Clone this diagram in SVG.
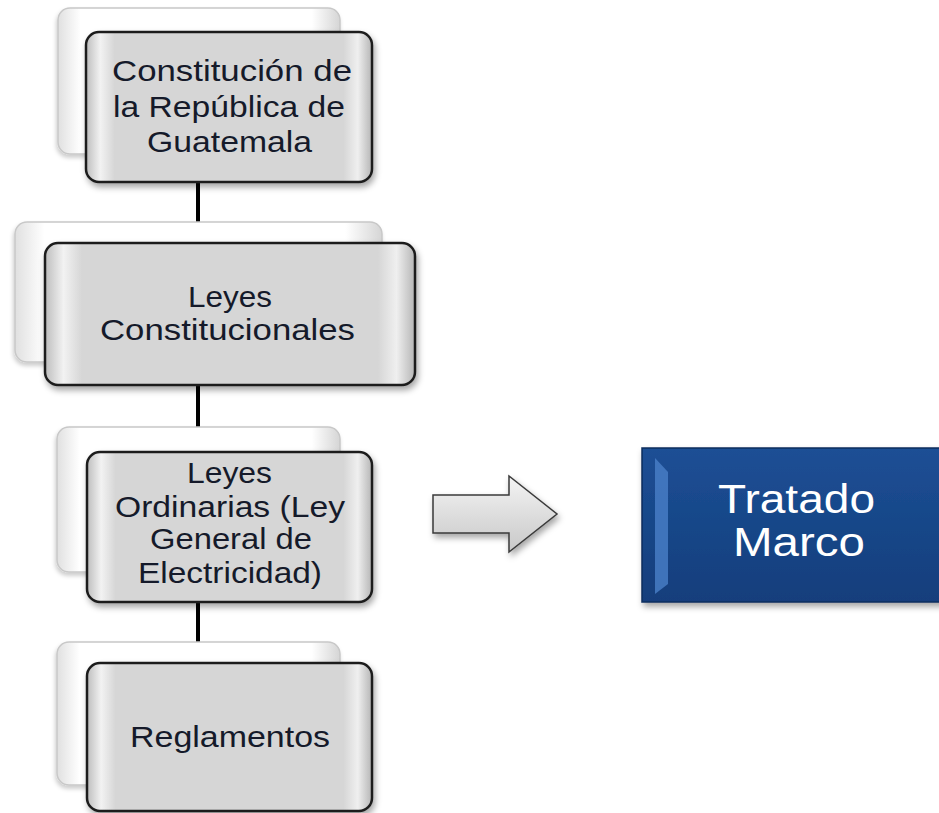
<svg xmlns="http://www.w3.org/2000/svg" width="939" height="813" viewBox="0 0 939 813">
<defs>
<linearGradient id="gBack" x1="0" y1="0" x2="1" y2="0">
<stop offset="0" stop-color="#e0e0e0"/><stop offset="0.08" stop-color="#ffffff"/><stop offset="0.9" stop-color="#ffffff"/><stop offset="1" stop-color="#d5d5d5"/>
</linearGradient>
<linearGradient id="gFront" x1="0" y1="0" x2="1" y2="0">
<stop offset="0" stop-color="#bdbdbd"/><stop offset="0.05" stop-color="#f2f2f2"/><stop offset="0.1" stop-color="#d6d6d6"/><stop offset="0.9" stop-color="#d6d6d6"/><stop offset="0.95" stop-color="#efefef"/><stop offset="1" stop-color="#b5b5b5"/>
</linearGradient>
<linearGradient id="gArrow" x1="0" y1="0" x2="0" y2="1">
<stop offset="0" stop-color="#f4f4f4"/><stop offset="1" stop-color="#c8c8c8"/>
</linearGradient>
<linearGradient id="gBlue" x1="0" y1="0" x2="0" y2="1">
<stop offset="0" stop-color="#1d4f95"/><stop offset="1" stop-color="#123e7c"/>
</linearGradient>
<filter id="sh" x="-10%" y="-10%" width="125%" height="130%">
<feDropShadow dx="2" dy="4" stdDeviation="3" flood-color="#000" flood-opacity="0.35"/>
</filter>
<filter id="shb" x="-10%" y="-10%" width="125%" height="130%">
<feDropShadow dx="-1" dy="3" stdDeviation="2" flood-color="#000" flood-opacity="0.2"/>
</filter>
</defs>
<style>
.back{fill:url(#gBack);stroke:#c8c8c8;stroke-width:1.5;filter:url(#shb)}
.front{fill:url(#gFront);stroke:#1e1e1e;stroke-width:2.5;filter:url(#sh)}
.t{font-family:"Liberation Sans",Arial,sans-serif;font-size:29px;fill:#151a2a;text-anchor:start}
.tw{font-family:"Liberation Sans",Arial,sans-serif;font-size:40px;fill:#ffffff;text-anchor:start}
.conn{stroke:#000;stroke-width:4;fill:none}
</style>
<rect width="939" height="813" fill="#ffffff"/>
<g id="connectors">
<line class="conn" x1="198" y1="170" x2="198" y2="250"/>
<line class="conn" x1="198" y1="375" x2="198" y2="460"/>
<line class="conn" x1="198" y1="590" x2="198" y2="670"/>
</g>
<g id="node-constitucion">
<rect class="back" x="58" y="8" width="282" height="146" rx="12"/>
<rect class="front" x="86" y="32" width="286" height="150" rx="13"/>
<text class="t" x="112" y="81" textLength="240" lengthAdjust="spacingAndGlyphs">Constitución de</text>
<text class="t" x="113" y="117" textLength="232" lengthAdjust="spacingAndGlyphs">la República de</text>
<text class="t" x="147" y="152" textLength="165" lengthAdjust="spacingAndGlyphs">Guatemala</text>
</g>
<g id="node-leyes-constitucionales">
<rect class="back" x="15" y="222" width="367" height="140" rx="12"/>
<rect class="front" x="45" y="243" width="370" height="142" rx="13"/>
<text class="t" x="188" y="307" textLength="84" lengthAdjust="spacingAndGlyphs">Leyes</text>
<text class="t" x="100" y="340" textLength="255" lengthAdjust="spacingAndGlyphs">Constitucionales</text>
</g>
<g id="node-leyes-ordinarias">
<rect class="back" x="57" y="427" width="283" height="145" rx="12"/>
<rect class="front" x="87" y="452" width="285" height="150" rx="13"/>
<text class="t" x="187" y="483" textLength="85" lengthAdjust="spacingAndGlyphs">Leyes</text>
<text class="t" x="115" y="517" textLength="230" lengthAdjust="spacingAndGlyphs">Ordinarias (Ley</text>
<text class="t" x="150" y="549" textLength="162" lengthAdjust="spacingAndGlyphs">General de</text>
<text class="t" x="138" y="583" textLength="184" lengthAdjust="spacingAndGlyphs">Electricidad)</text>
</g>
<g id="node-reglamentos">
<rect class="back" x="57" y="642" width="283" height="143" rx="12"/>
<rect class="front" x="87" y="663" width="285" height="148" rx="13"/>
<text class="t" x="130" y="747" textLength="200" lengthAdjust="spacingAndGlyphs">Reglamentos</text>
</g>
<g id="arrow">
<polygon points="433,495 509,495 509,476 557,514 509,552 509,533 433,533" fill="url(#gArrow)" stroke="#3a3a3a" stroke-width="1.5" filter="url(#sh)"/>
</g>
<g id="node-tratado-marco">
<rect x="642" y="448" width="320" height="154" fill="url(#gBlue)" stroke="#0c2c5e" stroke-width="1.5" filter="url(#sh)"/>
<polygon points="655,458 668,472 668,584 655,594" fill="#4a7fc8" opacity="0.8"/>
<text class="tw" x="718" y="513" textLength="157" lengthAdjust="spacingAndGlyphs">Tratado</text>
<text class="tw" x="733" y="556" textLength="132" lengthAdjust="spacingAndGlyphs">Marco</text>
</g>
</svg>
